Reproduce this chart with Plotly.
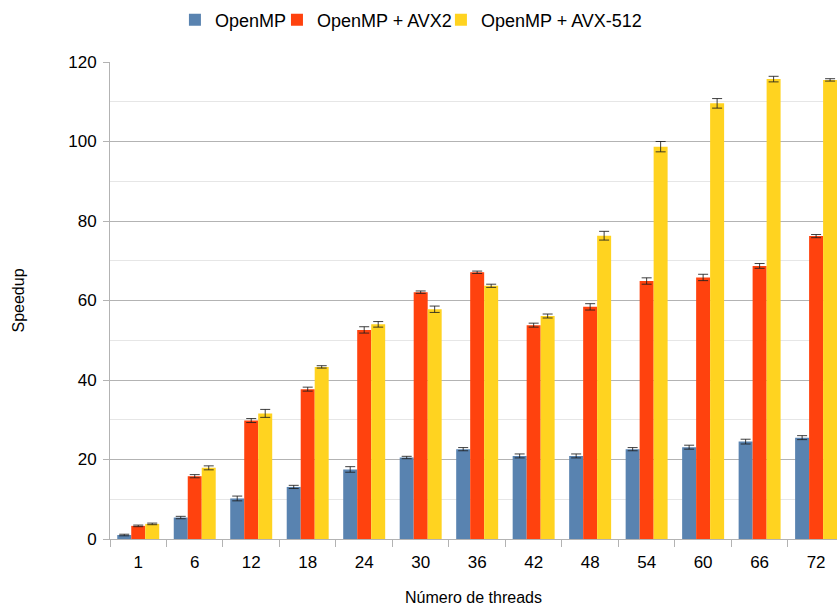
import plotly.graph_objects as go

categories = ["1", "6", "12", "18", "24", "30", "36", "42", "48", "54", "60", "66", "72"]
openmp = [1.0, 5.4, 10.2, 13.1, 17.5, 20.5, 22.6, 20.9, 20.9, 22.6, 23.1, 24.5, 25.5]
openmp_err = [0.2, 0.3, 0.6, 0.4, 0.7, 0.3, 0.4, 0.5, 0.5, 0.4, 0.5, 0.6, 0.5]
avx2 = [3.3, 15.8, 29.8, 37.7, 52.6, 62.1, 67.1, 53.8, 58.4, 64.9, 65.8, 68.7, 76.2]
avx2_err = [0.2, 0.4, 0.5, 0.5, 0.8, 0.3, 0.3, 0.5, 0.8, 0.8, 0.8, 0.6, 0.4]
avx512 = [3.8, 17.9, 31.6, 43.3, 54.0, 57.8, 63.7, 56.1, 76.3, 98.7, 109.6, 115.7, 115.5]
avx512_err = [0.2, 0.5, 1.0, 0.3, 0.7, 0.8, 0.4, 0.5, 1.1, 1.3, 1.2, 0.7, 0.3]

series_names = ["OpenMP", "OpenMP + AVX2", "OpenMP + AVX-512"]
colors = ["#5983b0", "#ff420e", "#ffd320"]
legend_ids = ["legend", "legend2", "legend3"]
legend_x = [0.2090, 0.3309, 0.5268]

fig = go.Figure()
for name, vals, errs, col, lid in zip(series_names, [openmp, avx2, avx512],
                                       [openmp_err, avx2_err, avx512_err], colors, legend_ids):
    fig.add_trace(go.Bar(
        x=categories, y=vals, name=name, legend=lid,
        marker=dict(color=col, line=dict(width=0)),
        error_y=dict(type="data", array=errs, visible=True,
                     color="rgba(30,30,30,0.85)", thickness=1, width=5),
    ))

legend_common = dict(orientation="h", xanchor="left", xref="container",
                     y=0.967, yanchor="middle", yref="container",
                     font=dict(size=18), itemwidth=30, bgcolor="rgba(0,0,0,0)")

fig.update_layout(
    width=837, height=606,
    margin=dict(l=110, r=0, t=62, b=67),
    paper_bgcolor="white", plot_bgcolor="white",
    font=dict(family="Liberation Sans, Arial, sans-serif", size=16, color="#000000"),
    barmode="group", bargap=0.257, bargroupgap=0,
    legend=dict(x=legend_x[0], **legend_common),
    legend2=dict(x=legend_x[1], **legend_common),
    legend3=dict(x=legend_x[2], **legend_common),
    showlegend=True,
)

fig.update_xaxes(
    type="category", range=[-0.5, 12.37],
    tickson="boundaries", ticks="outside", ticklen=7, tickcolor="#b3b3b3",
    showline=True, linecolor="#b3b3b3", linewidth=1,
    showgrid=False,
    tickfont=dict(size=17), ticklabelstandoff=8,
    title=dict(text="Número de threads", font=dict(size=16), standoff=23),
)
fig.update_yaxes(
    range=[0, 120], dtick=20, tick0=0,
    ticks="outside", ticklen=6, tickcolor="#b3b3b3",
    showline=True, linecolor="#b3b3b3", linewidth=1,
    showgrid=True, gridcolor="#b3b3b3", gridwidth=1,
    minor=dict(dtick=10, showgrid=True, gridcolor="#e6e6e6", gridwidth=1),
    zeroline=False,
    tickfont=dict(size=17), ticklabelstandoff=3,
    title=dict(text="Speedup", font=dict(size=16), standoff=39),
)

fig.write_html("out.html",
               config={"displayModeBar": False},
               post_script="document.body.style.margin='0';document.body.style.overflow='hidden';")
